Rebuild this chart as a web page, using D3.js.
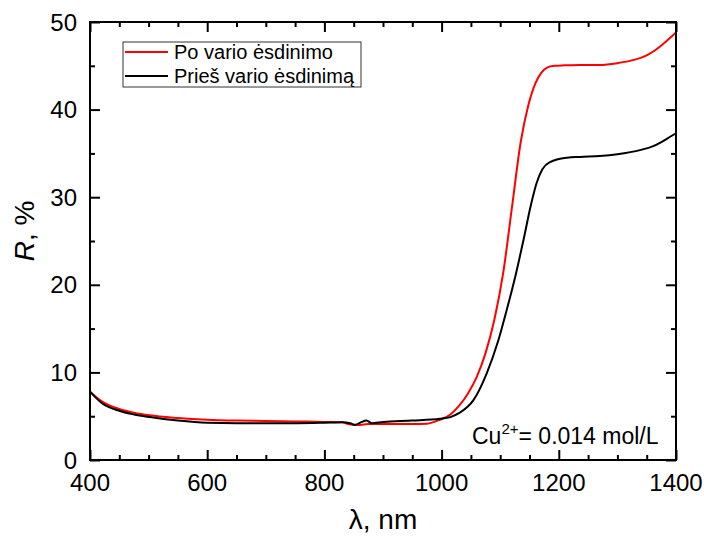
<!DOCTYPE html>
<html lang="lt">
<head>
  <meta charset="UTF-8">
  <title>R vs lambda</title>
  <script src="https://d3js.org/d3.v7.min.js"></script>
  <style>
    body { margin: 0; background: #fff; }
    svg { font-family: "Liberation Sans", Arial, sans-serif; }
  </style>
</head>
<body>
<script>
  // wavelength (nm) and reflectance (%)
  const waveAfter = [400, 420, 451, 475, 502, 550, 600, 650, 700, 753, 800, 830, 845, 860, 875, 900, 950, 975, 997, 1015, 1030, 1045, 1060, 1075, 1090, 1105, 1120, 1135, 1148, 1160, 1170, 1180, 1192, 1210, 1236, 1270, 1300, 1330, 1350, 1365, 1380, 1390, 1400];
  const rAfter    = [7.8, 6.7, 5.8, 5.4, 5.1, 4.8, 4.6, 4.5, 4.45, 4.4, 4.35, 4.3, 4.05, 4.0, 4.1, 4.1, 4.1, 4.15, 4.6, 5.2, 6.2, 7.6, 9.5, 12.2, 16.0, 21.3, 28.8, 36.3, 40.5, 43.0, 44.2, 44.8, 45.0, 45.05, 45.1, 45.1, 45.3, 45.7, 46.2, 46.8, 47.6, 48.2, 48.8];

  const waveBefore = [400, 420, 451, 475, 502, 550, 600, 650, 700, 753, 800, 830, 844, 852, 862, 872, 881, 900, 950, 997, 1015, 1031, 1054, 1077, 1097, 1113, 1127, 1140, 1152, 1162, 1172, 1185, 1214, 1236, 1270, 1300, 1340, 1360, 1375, 1390, 1400];
  const rBefore    = [7.8, 6.5, 5.6, 5.2, 4.9, 4.5, 4.25, 4.2, 4.2, 4.2, 4.25, 4.3, 4.2, 4.0, 4.3, 4.5, 4.2, 4.35, 4.5, 4.7, 4.9, 5.4, 6.8, 9.9, 13.7, 17.6, 21.3, 25.2, 29.0, 31.6, 33.2, 34.0, 34.5, 34.6, 34.7, 34.9, 35.4, 35.8, 36.3, 36.9, 37.3];

  const seriesNames = ["Po vario ėsdinimo", "Prieš vario ėsdinimą"];
  const seriesColors = ["#ff0000", "#000000"];
  const xTicks = [400, 600, 800, 1000, 1200, 1400];
  const yTicks = [0, 10, 20, 30, 40, 50];

  const W = 704, H = 537;
  const plotL = 90, plotR = 676, plotT = 22, plotB = 460;

  const svg = d3.select("body").append("svg")
      .attr("width", W)
      .attr("height", H);

  const x = d3.scaleLinear().domain([400, 1400]).range([plotL, plotR]);
  const y = d3.scaleLinear().domain([0, 50]).range([plotB, plotT]);

  const series = [
    { name: seriesNames[0], color: seriesColors[0], pts: waveAfter.map((w, i) => [w, rAfter[i]]) },
    { name: seriesNames[1], color: seriesColors[1], pts: waveBefore.map((w, i) => [w, rBefore[i]]) }
  ];

  const line = d3.line()
      .x(d => x(d[0]))
      .y(d => y(d[1]))
      .curve(d3.curveMonotoneX);

  // red drawn first, black on top
  svg.selectAll("path.series")
      .data(series)
      .enter()
      .append("path")
      .attr("class", "series")
      .attr("d", d => line(d.pts))
      .attr("fill", "none")
      .attr("stroke", d => d.color)
      .attr("stroke-width", 2);

  // axes with inward ticks on all four sides
  const xMinor = d3.range(400, 1401, 50).filter(v => v % 200 !== 0);
  const yMinor = d3.range(0, 51, 5).filter(v => v % 10 !== 0);

  function styleAxis(g) {
    g.select(".domain").remove();
    g.selectAll("line").attr("stroke", "#000").attr("stroke-width", 2);
  }

  svg.append("g").attr("transform", `translate(0,${plotB})`)
      .call(d3.axisTop(x).tickValues(xTicks).tickSize(10).tickFormat(""))
      .call(styleAxis);
  svg.append("g").attr("transform", `translate(0,${plotB})`)
      .call(d3.axisTop(x).tickValues(xMinor).tickSize(5).tickFormat(""))
      .call(styleAxis);
  svg.append("g").attr("transform", `translate(0,${plotT})`)
      .call(d3.axisBottom(x).tickValues(xTicks).tickSize(10).tickFormat(""))
      .call(styleAxis);
  svg.append("g").attr("transform", `translate(0,${plotT})`)
      .call(d3.axisBottom(x).tickValues(xMinor).tickSize(5).tickFormat(""))
      .call(styleAxis);
  svg.append("g").attr("transform", `translate(${plotL},0)`)
      .call(d3.axisRight(y).tickValues(yTicks).tickSize(10).tickFormat(""))
      .call(styleAxis);
  svg.append("g").attr("transform", `translate(${plotL},0)`)
      .call(d3.axisRight(y).tickValues(yMinor).tickSize(5).tickFormat(""))
      .call(styleAxis);
  svg.append("g").attr("transform", `translate(${plotR},0)`)
      .call(d3.axisLeft(y).tickValues(yTicks).tickSize(10).tickFormat(""))
      .call(styleAxis);
  svg.append("g").attr("transform", `translate(${plotR},0)`)
      .call(d3.axisLeft(y).tickValues(yMinor).tickSize(5).tickFormat(""))
      .call(styleAxis);

  // frame
  svg.append("rect")
      .attr("x", plotL).attr("y", plotT)
      .attr("width", plotR - plotL).attr("height", plotB - plotT)
      .attr("fill", "none")
      .attr("stroke", "#000")
      .attr("stroke-width", 2);

  // tick labels
  svg.selectAll("text.xtick")
      .data(xTicks)
      .enter()
      .append("text")
      .attr("class", "xtick")
      .attr("x", d => x(d))
      .attr("y", 491)
      .attr("text-anchor", "middle")
      .attr("font-size", 24)
      .text(d => d);

  svg.selectAll("text.ytick")
      .data(yTicks)
      .enter()
      .append("text")
      .attr("class", "ytick")
      .attr("x", 77)
      .attr("y", d => y(d) + 8.5)
      .attr("text-anchor", "end")
      .attr("font-size", 24)
      .text(d => d);

  // axis titles
  svg.append("text")
      .attr("x", (plotL + plotR) / 2)
      .attr("y", 529)
      .attr("text-anchor", "middle")
      .attr("font-size", 28)
      .text("λ, nm");

  const yTitle = svg.append("text")
      .attr("transform", "translate(34,231) rotate(-90)")
      .attr("text-anchor", "middle")
      .attr("font-size", 28);
  yTitle.append("tspan").attr("font-style", "italic").text("R");
  yTitle.append("tspan").text(", %");

  // legend
  const lg = svg.append("g");
  lg.append("rect")
      .attr("x", 123).attr("y", 42)
      .attr("width", 238).attr("height", 45)
      .attr("fill", "#fff")
      .attr("stroke", "#333")
      .attr("stroke-width", 1);
  lg.selectAll("line")
      .data(series)
      .enter()
      .append("line")
      .attr("x1", 125).attr("x2", 168)
      .attr("y1", (d, i) => 52 + i * 24)
      .attr("y2", (d, i) => 52 + i * 24)
      .attr("stroke", d => d.color)
      .attr("stroke-width", 2);
  lg.selectAll("text")
      .data(series)
      .enter()
      .append("text")
      .attr("x", 174)
      .attr("y", (d, i) => 59 + i * 24)
      .attr("font-size", 20)
      .text(d => d.name);

  // concentration note
  const note = svg.append("text")
      .attr("x", 472)
      .attr("y", 444)
      .attr("font-size", 23);
  note.append("tspan").text("Cu");
  note.append("tspan").attr("dy", -10).attr("font-size", 15).text("2+");
  note.append("tspan").attr("dy", 10).text("= 0.014 mol/L");
</script>
</body>
</html>
